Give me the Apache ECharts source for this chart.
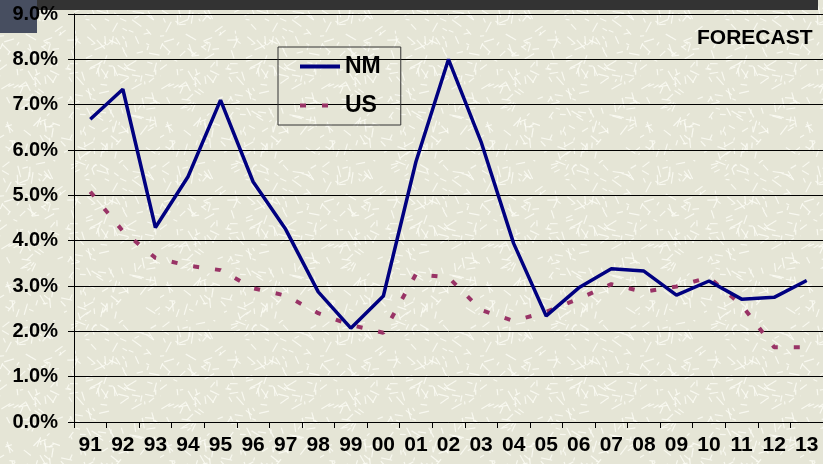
<!DOCTYPE html>
<html>
<head>
<meta charset="utf-8">
<script src="https://cdn.jsdelivr.net/npm/echarts@6/dist/echarts.min.js"></script>
<style>
html,body{margin:0;padding:0;background:#E9E9DC;}
#chart{width:823px;height:464px;}
</style>
</head>
<body>
<div id="chart"></div>
<script>
const years = ['91','92','93','94','95','96','97','98','99','00','01','02','03','04','05','06','07','08','09','10','11','12','13'];
const nm = [6.68,7.34,4.29,5.41,7.1,5.3,4.25,2.87,2.07,2.78,5.74,8.0,6.18,3.94,2.34,2.96,3.38,3.33,2.8,3.11,2.71,2.75,3.12];
const us = [5.08,4.21,3.62,3.45,3.35,2.95,2.79,2.4,2.14,1.97,3.26,3.19,2.47,2.23,2.43,2.72,3.04,2.87,2.99,3.19,2.58,1.65,1.65];
const forecastStart = 18;

// decorative paper texture (deterministic)
function makeTexture() {
  const c = document.createElement('canvas');
  c.width = 160; c.height = 160;
  const g = c.getContext('2d');
  g.fillStyle = '#E5E5D6';
  g.fillRect(0, 0, 160, 160);
  let s = 12345;
  const next = () => { s = (s * 1103515245 + 12345) % 2147483648; return s / 2147483648; };
  g.strokeStyle = 'rgba(252,252,245,0.85)';
  g.lineWidth = 1.2;
  for (let i = 0; i < 280; i++) {
    const x = next() * 160, y = next() * 160, a = next() * Math.PI * 2, l = 3 + next() * 9;
    g.beginPath();
    g.moveTo(x, y);
    g.lineTo(x + Math.cos(a) * l, y + Math.sin(a) * l);
    g.stroke();
  }
  return c;
}

const chart = echarts.init(document.getElementById('chart'));
const font = '"Liberation Sans", Arial, sans-serif';
chart.setOption({
  backgroundColor: {image: makeTexture(), repeat: 'repeat'},
  animation: false,
  grid: {left: 74, top: 14, width: 754, height: 408, containLabel: false},
  graphic: [
    {type: 'rect', left: 37, top: 0, z: -10, shape: {width: 781, height: 10}, style: {fill: '#333333'}},
    {type: 'rect', left: 0, top: 0, z: -10, shape: {width: 37, height: 33}, style: {fill: '#474E60'}},
    {type: 'text', left: 697, top: 28, style: {text: 'FORECAST', font: 'bold 21px ' + font, fill: '#000'}}
  ],
  legend: {
    orient: 'vertical', left: 278, top: 47,
    padding: [8, 20, 8, 20], itemGap: 16,
    itemWidth: 40, itemHeight: 14,
    borderColor: '#333', borderWidth: 1,
    itemStyle: {opacity: 0},
    lineStyle: {width: 4},
    textStyle: {fontFamily: font, fontWeight: 'bold', fontSize: 23, color: '#000'},
    data: ['NM', 'US']
  },
  xAxis: {
    type: 'category', data: years, boundaryGap: true,
    axisLine: {lineStyle: {color: '#000', width: 1}},
    axisTick: {show: true, length: 6, lineStyle: {color: '#000'}},
    axisLabel: {fontFamily: font, fontWeight: 'bold', fontSize: 21, color: '#000', margin: 13, interval: 0},
    splitLine: {show: true, interval: function (i) { return i === forecastStart; }, lineStyle: {color: '#000', width: 1}}
  },
  yAxis: {
    type: 'value', min: 0, max: 9, interval: 1,
    axisLine: {show: true, lineStyle: {color: '#000', width: 1}},
    axisTick: {show: true, length: 6, lineStyle: {color: '#000'}},
    axisLabel: {fontFamily: font, fontWeight: 'bold', fontSize: 20, color: '#000', margin: 16,
      formatter: function (v) { return v.toFixed(1) + '%'; }},
    splitLine: {lineStyle: {color: '#000', width: 1}}
  },
  series: [
    {name: 'NM', type: 'line', data: nm, symbol: 'none', showSymbol: false,
      lineStyle: {color: '#000080', width: 3.5}, itemStyle: {color: '#000080'}, z: 3},
    {name: 'US', type: 'line', data: us, symbol: 'none', showSymbol: false,
      lineStyle: {color: '#993366', width: 4, type: [6, 16]}, itemStyle: {color: '#993366'}, z: 2}
  ]
});
</script>
</body>
</html>
